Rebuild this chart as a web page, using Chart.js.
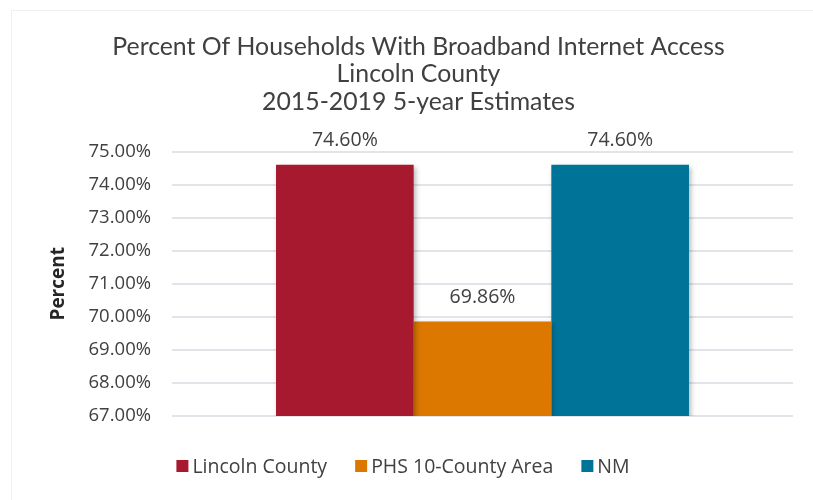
<!DOCTYPE html>
<html>
<head>
<meta charset="utf-8">
<script src="https://cdn.jsdelivr.net/npm/chart.js@4"></script>
<style>
  html, body { margin: 0; padding: 0; background: #ffffff; }
  #wrap { width: 813px; height: 500px; position: relative; }
</style>
</head>
<body>
<div id="wrap"><canvas id="c" width="813" height="500"></canvas></div>
<script>
// Chart data
const categories = [''];
const seriesNames = ['Lincoln County', 'PHS 10-County Area', 'NM'];
const lincolnCounty = [74.60];
const phsArea = [69.86];
const newMexico = [74.60];
const seriesColors = ['#A6192E', '#DC7800', '#007398'];
const yMin = 67;
const yMax = 75;
const yStep = 1;
const titleLines = [
  'Percent Of Households With Broadband Internet Access',
  'Lincoln County',
  '2015-2019 5-year Estimates'
];

const TEXT = '#404040';
const FONT = "'Open Sans', sans-serif";

const seriesValues = [lincolnCounty, phsArea, newMexico];
const datasets = seriesNames.map((name, i) => ({
  label: name,
  data: seriesValues[i],
  backgroundColor: seriesColors[i],
  borderWidth: 0,
  barPercentage: 1.0,
  categoryPercentage: 0.665
}));

// soft drop shadow under the bars
const barShadow = {
  id: 'barShadow',
  beforeDatasetsDraw(chart) {
    const ctx = chart.ctx;
    ctx.save();
    ctx.shadowColor = 'rgba(0,0,0,0.28)';
    ctx.shadowBlur = 5;
    ctx.shadowOffsetX = 2;
    ctx.shadowOffsetY = 2;
  },
  afterDatasetsDraw(chart) {
    chart.ctx.restore();
  }
};

// value labels above each bar
const valueLabels = {
  id: 'valueLabels',
  afterDatasetsDraw(chart) {
    const ctx = chart.ctx;
    ctx.save();
    ctx.font = "19.5px " + FONT;
    ctx.fillStyle = TEXT;
    ctx.textAlign = 'center';
    ctx.textBaseline = 'middle';
    chart.data.datasets.forEach((ds, di) => {
      const meta = chart.getDatasetMeta(di);
      meta.data.forEach((bar, i) => {
        const v = ds.data[i];
        ctx.fillText(v.toFixed(2) + '%', bar.x, bar.y - 24);
      });
    });
    ctx.restore();
  }
};

// legend row under the plot
const bottomLegend = {
  id: 'bottomLegend',
  afterDraw(chart) {
    const ctx = chart.ctx;
    ctx.save();
    ctx.font = "19.5px " + FONT;
    ctx.textBaseline = 'middle';
    const box = 12, boxGap = 4, itemGap = 28;
    const items = chart.data.datasets.map(ds => ({
      label: ds.label, color: ds.backgroundColor,
      w: box + boxGap + ctx.measureText(ds.label).width
    }));
    const total = items.reduce((s, it) => s + it.w, 0) + itemGap * (items.length - 1);
    let x = 403 - total / 2;
    const y = 466;
    items.forEach(it => {
      ctx.fillStyle = it.color;
      ctx.fillRect(x, y - box / 2, box, box);
      ctx.fillStyle = TEXT;
      ctx.fillText(it.label, x + box + boxGap, y + 1);
      x += it.w + itemGap;
    });
    ctx.restore();
  }
};

// light outer frame
const frame = {
  id: 'frame',
  beforeDraw(chart) {
    const ctx = chart.ctx;
    ctx.save();
    ctx.strokeStyle = '#EFEFEF';
    ctx.lineWidth = 1;
    ctx.strokeRect(11.5, 10.5, 900, 600);
    ctx.restore();
  }
};

new Chart(document.getElementById('c'), {
  type: 'bar',
  data: { labels: categories, datasets },
  plugins: [frame, barShadow, valueLabels, bottomLegend],
  options: {
    responsive: false,
    animation: false,
    devicePixelRatio: 1,
    layout: { padding: { left: 44, right: 20, top: 0, bottom: 84 } },
    plugins: {
      legend: { display: false },
      tooltip: { enabled: false },
      title: {
        display: true,
        text: titleLines,
        color: TEXT,
        font: { family: "Lato, sans-serif", size: 24.8, weight: '400', lineHeight: 1.11 },
        padding: { top: 33, bottom: 36 }
      }
    },
    scales: {
      x: {
        display: false,
        grid: { display: false }
      },
      y: {
        min: yMin,
        max: yMax,
        afterFit(scale) { scale.width = 128; },
        border: { display: false },
        grid: { color: '#E1E5EA', lineWidth: 2, drawTicks: false },
        ticks: {
          stepSize: yStep,
          padding: 21,
          color: TEXT,
          font: { family: FONT, size: 18.5 },
          callback: v => Number(v).toFixed(2) + '%'
        },
        title: {
          display: true,
          text: 'Percent',
          color: '#262626',
          font: { family: FONT, size: 19, weight: 'bold' },
          padding: { top: 3, bottom: 0 }
        }
      }
    }
  }
});
</script>
</body>
</html>
